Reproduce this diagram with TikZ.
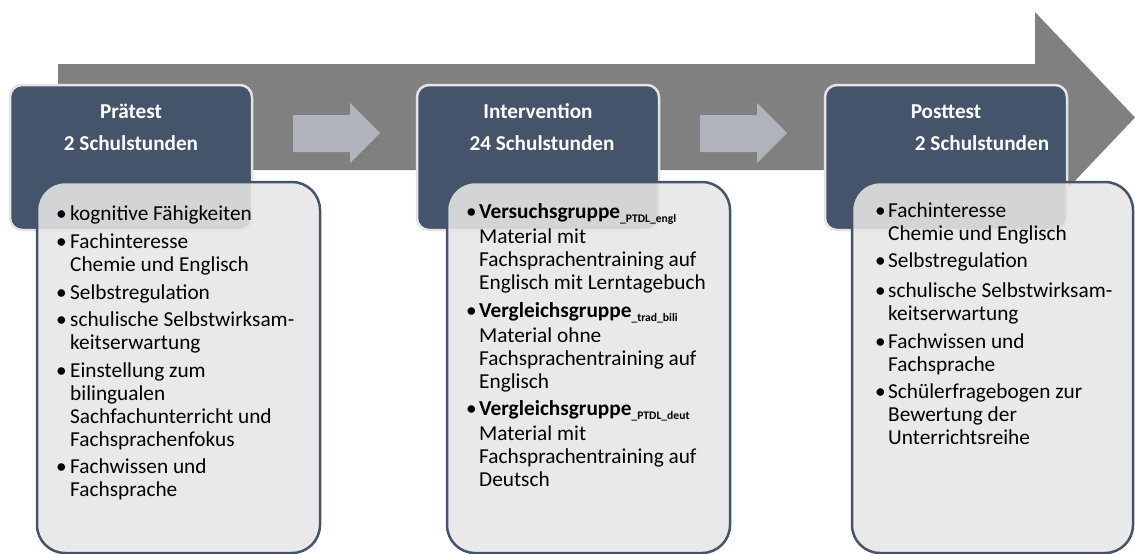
\documentclass[tikz,border=0pt]{standalone}
\usepackage{fontspec}
\setmainfont{Carlito}
\definecolor{darkbox}{HTML}{44546A}
\definecolor{lightbox}{HTML}{E7E6E6}
\definecolor{bigarrow}{HTML}{808080}
\definecolor{smallarrow}{HTML}{B0B3BB}
\definecolor{rimcol}{HTML}{E4E4E4}
\newcommand\subtag[1]{\raisebox{-4pt}{\fontsize{11.6}{11.6}\selectfont\bfseries #1}}
\tikzset{
  darkstage/.style={fill=darkbox, draw=rimcol, line width=2.5pt, rounded corners=12pt},
  lightstage/.style={fill=lightbox, fill opacity=0.88, draw=darkbox, line width=2.5pt, rounded corners=28pt},
  flowarrow/.style={fill=smallarrow},
  headtxt/.style={anchor=base, inner sep=0pt, text=white, font=\fontsize{21.2}{23}\selectfont\bfseries},
  itemtxt/.style={anchor=base west, inner sep=0pt, align=left, font=\fontsize{21.3}{23}\selectfont},
  bulnode/.style={anchor=base west, inner sep=0pt, font=\fontsize{21.3}{23}\selectfont}
}
\begin{document}
\begin{tikzpicture}[x=1pt,y=-1pt]
\useasboundingbox (0,0) rectangle (1135,554);
% big background arrow
\fill[bigarrow] (58,64) -- (1035,64) -- (1035,12) -- (1135,117.5) -- (1035,223) -- (1035,170) -- (58,170) -- cycle;
% small arrows
\fill[flowarrow] (293,115) -- (350,115) -- (350,103) -- (380,133) -- (350,163) -- (350,152) -- (293,152) -- cycle;
\fill[flowarrow] (700,115) -- (757,115) -- (757,103) -- (787,133) -- (757,163) -- (757,152) -- (700,152) -- cycle;
% dark boxes
\draw[darkstage] (10,85) rectangle (252,230);
\draw[darkstage] (417,85) rectangle (659,230);
\draw[darkstage] (825,85) rectangle (1067,230);
% headers
\node[headtxt] (h1a) at (131,118) {Prätest};
\node[headtxt] (h1b) at (131,150) {2 Schulstunden};
\node[headtxt] (h2a) at (538,118) {Intervention};
\node[headtxt] (h2b) at (542,150) {24 Schulstunden};
\node[headtxt] (h3a) at (946,118) {Posttest};
\node[headtxt] (h3b) at (982,150) {2 Schulstunden};
% light boxes
\draw[lightstage] (37,182) rectangle (320,553);
\draw[lightstage] (447,182) rectangle (730,553);
\draw[lightstage] (852,182) rectangle (1133,553);
% Praetest items (anchor = baseline of last line)
\foreach \y/\n in {220/1,248/2,299/3,326/4,377/5,473/6} {\node[bulnode] (pb\n) at (56,\y) {•};}
\node[itemtxt] (p1) at (70,220) {kognitive Fähigkeiten};
\node[itemtxt] (p2) at (70,271) {Fachinteresse\\Chemie und Englisch};
\node[itemtxt] (p3) at (70,299) {Selbstregulation};
\node[itemtxt] (p4) at (70,349) {schulische Selbstwirksam-\\keitserwartung};
\node[itemtxt] (p5) at (70,446) {Einstellung zum\\bilingualen\\Sachfachunterricht und\\Fachsprachenfokus};
\node[itemtxt] (p6) at (70,496) {Fachwissen und\\Fachsprache};
% Intervention items
\foreach \y/\n in {218/1,317/2,415/3} {\node[bulnode] (ib\n) at (466,\y) {•};}
\node[itemtxt] (i1) at (479,289) {\textbf{Versuchsgruppe}\subtag{\_PTDL\_engl}\\[2pt]Material mit\\Fachsprachentraining auf\\Englisch mit Lerntagebuch};
\node[itemtxt] (i2) at (479,388) {\textbf{Vergleichsgruppe}\subtag{\_trad\_bili}\\[2pt]Material ohne\\Fachsprachentraining auf\\Englisch};
\node[itemtxt] (i3) at (479,486) {\textbf{Vergleichsgruppe}\subtag{\_PTDL\_deut}\\[2pt]Material mit\\Fachsprachentraining auf\\Deutsch};
% Posttest items
\foreach \y/\n in {217/1,267/2,297/3,348/4,398/5} {\node[bulnode] (qb\n) at (875,\y) {•};}
\node[itemtxt] (q1) at (888,240) {Fachinteresse\\Chemie und Englisch};
\node[itemtxt] (q2) at (888,267) {Selbstregulation};
\node[itemtxt] (q3) at (888,320) {schulische Selbstwirksam-\\keitserwartung};
\node[itemtxt] (q4) at (888,371) {Fachwissen und\\Fachsprache};
\node[itemtxt] (q5) at (888,444) {Schülerfragebogen zur\\Bewertung der\\Unterrichtsreihe};
\end{tikzpicture}
\end{document}
